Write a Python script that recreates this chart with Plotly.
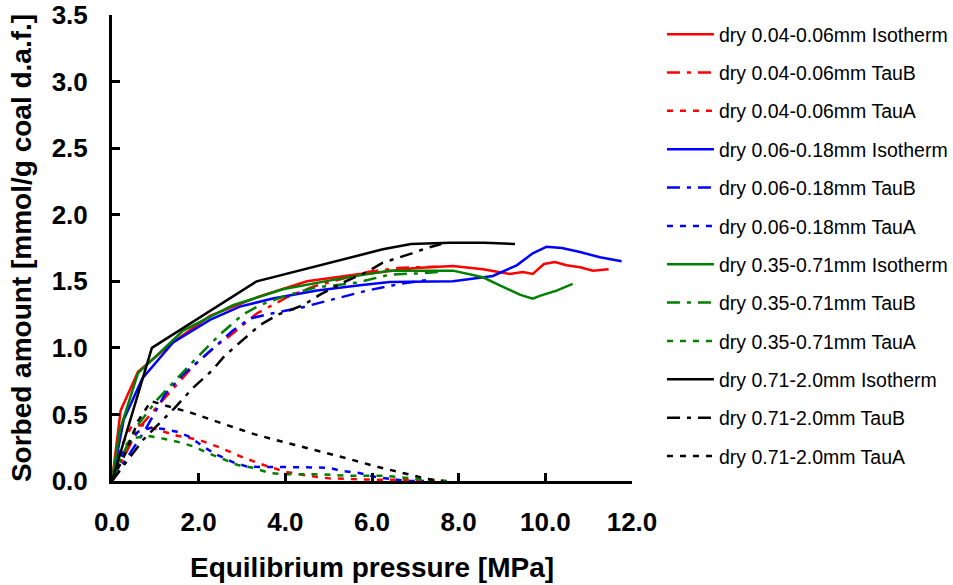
import plotly.graph_objects as go

# ---- data: pressure [MPa] and sorbed amount [mmol/g coal d.a.f.] ----
# dry 0.04-0.06mm
p_red_iso = [0, 0.2, 0.6, 1.0, 1.4, 2.26, 3.35, 4.5, 5.72, 6.0, 7.0, 7.87, 8.56, 9.18, 9.48, 9.71, 9.97, 10.22, 10.49, 10.8, 11.1, 11.46]
q_red_iso = [0, 0.53, 0.82, 0.93, 1.04, 1.24, 1.38, 1.50, 1.555, 1.56, 1.60, 1.615, 1.59, 1.555, 1.57, 1.555, 1.63, 1.645, 1.62, 1.605, 1.58, 1.59]
p_red_tb = [0, 0.3, 0.6, 1.15, 1.87, 2.42, 2.68, 3.35, 4.04, 4.64, 5.3, 5.9, 6.6, 7.5]
q_red_tb = [0, 0.2, 0.39, 0.6, 0.86, 1.02, 1.08, 1.26, 1.38, 1.46, 1.52, 1.57, 1.60, 1.61]
p_red_ta = [0, 0.2, 0.45, 0.7, 1.0, 1.5, 2.0, 2.5, 3.0, 3.5, 4.0, 4.5, 5.0, 6.0, 7.0, 7.7]
q_red_ta = [0, 0.25, 0.41, 0.42, 0.39, 0.34, 0.31, 0.25, 0.18, 0.12, 0.07, 0.04, 0.02, 0.01, 0.01, 0.0]

# dry 0.06-0.18mm
p_blue_iso = [0, 0.27, 0.7, 1.41, 2.26, 2.95, 3.71, 4.73, 5.72, 6.41, 7.87, 8.79, 9.34, 9.71, 10.03, 10.38, 10.8, 11.26, 11.76]
q_blue_iso = [0, 0.46, 0.77, 1.04, 1.21, 1.31, 1.37, 1.43, 1.47, 1.495, 1.50, 1.54, 1.62, 1.71, 1.76, 1.75, 1.72, 1.68, 1.65]
p_blue_tb = [0, 0.3, 0.76, 1.22, 1.64, 2.07, 2.79, 3.18, 3.71, 4.34, 5.03, 5.88, 6.64, 7.3]
q_blue_tb = [0, 0.15, 0.38, 0.65, 0.8, 0.92, 1.13, 1.22, 1.26, 1.30, 1.36, 1.43, 1.48, 1.51]
p_blue_ta = [0, 0.3, 0.6, 0.9, 1.2, 1.5, 1.8, 2.1, 2.4, 2.8, 3.1, 3.5, 4.0, 5.0, 5.3, 5.7, 6.1, 6.5, 6.8, 7.2]
q_blue_ta = [0, 0.25, 0.37, 0.40, 0.39, 0.37, 0.33, 0.26, 0.20, 0.14, 0.11, 0.105, 0.105, 0.10, 0.075, 0.06, 0.03, 0.01, 0.0, 0.0]

# dry 0.35-0.71mm
p_green_iso = [0, 0.18, 0.6, 1.64, 2.79, 3.94, 5.26, 6.41, 7.87, 8.56, 8.95, 9.41, 9.71, 9.87, 10.26, 10.63]
q_green_iso = [0, 0.38, 0.81, 1.13, 1.32, 1.44, 1.52, 1.58, 1.58, 1.53, 1.47, 1.40, 1.37, 1.39, 1.43, 1.48]
p_green_tb = [0, 0.25, 0.55, 1.04, 1.85, 2.49, 3.02, 3.41, 4.0, 4.64, 5.65, 6.41, 7.1, 7.57]
q_green_tb = [0, 0.2, 0.4, 0.61, 0.89, 1.10, 1.25, 1.32, 1.39, 1.45, 1.49, 1.55, 1.56, 1.57]
p_green_ta = [0, 0.2, 0.45, 0.8, 1.15, 1.57, 1.87, 2.21, 2.56, 2.9, 3.25, 3.64, 4.04, 4.75, 5.49, 6.25, 6.6, 7.0, 7.38, 7.73]
q_green_ta = [0, 0.22, 0.32, 0.34, 0.32, 0.29, 0.26, 0.21, 0.165, 0.12, 0.10, 0.06, 0.05, 0.05, 0.04, 0.04, 0.03, 0.015, 0.005, 0.0]

# dry 0.71-2.0mm
p_black_iso = [0, 0.92, 3.34, 6.25, 6.9, 7.8, 8.6, 9.3]
q_black_iso = [0, 1.0, 1.50, 1.74, 1.78, 1.79, 1.79, 1.78]
p_black_tb = [0, 0.42, 0.72, 1.45, 1.87, 2.31, 2.6, 3.02, 3.41, 3.83, 4.41, 4.8, 5.33, 5.88, 6.25, 6.92, 7.27, 7.6]
q_black_tb = [0, 0.18, 0.31, 0.55, 0.70, 0.83, 0.94, 1.06, 1.17, 1.25, 1.32, 1.40, 1.49, 1.57, 1.64, 1.71, 1.75, 1.78]
p_black_ta = [0, 0.3, 0.6, 0.9, 1.2, 1.85, 2.56, 3.3, 3.99, 4.73, 5.42, 6.14, 6.87, 7.29, 7.64]
q_black_ta = [0, 0.2, 0.45, 0.6, 0.57, 0.51, 0.43, 0.35, 0.29, 0.23, 0.17, 0.105, 0.045, 0.015, 0.0]

fractions = ["dry 0.04-0.06mm", "dry 0.06-0.18mm", "dry 0.35-0.71mm", "dry 0.71-2.0mm"]
colors = ["#FF0000", "#0000FF", "#008000", "#000000"]
series = [
    [(p_red_iso, q_red_iso), (p_red_tb, q_red_tb), (p_red_ta, q_red_ta)],
    [(p_blue_iso, q_blue_iso), (p_blue_tb, q_blue_tb), (p_blue_ta, q_blue_ta)],
    [(p_green_iso, q_green_iso), (p_green_tb, q_green_tb), (p_green_ta, q_green_ta)],
    [(p_black_iso, q_black_iso), (p_black_tb, q_black_tb), (p_black_ta, q_black_ta)],
]
kinds = ["Isotherm", "TauB", "TauA"]
dashes = ["solid", "13px,7px,4px,7px", "6px,7px"]

FONT = "Arial, Liberation Sans, sans-serif"

fig = go.Figure()
k = 0
for name, col, group in zip(fractions, colors, series):
    for kind, dash, (px, qy) in zip(kinds, dashes, group):
        fig.add_trace(go.Scatter(
            x=px, y=qy, mode="lines",
            name=f"{name} {kind}",
            legendgroup=f"g{k}",
            line=dict(color=col, width=2.5, dash=dash),
        ))
        k += 1

axis_common = dict(
    showline=True, linecolor="black", linewidth=3,
    ticks="inside", ticklen=8, tickwidth=3, tickcolor="black",
    showgrid=False, zeroline=False, mirror=False, automargin=False,
    tickformat=".1f",
    tickfont=dict(family=FONT, size=26, color="black", weight="bold"),
    title_font=dict(family=FONT, size=28, color="black", weight="bold"),
)

fig.update_layout(
    width=953, height=585,
    margin=dict(l=112, r=321, t=15, b=104, autoexpand=False),
    paper_bgcolor="white", plot_bgcolor="white",
    xaxis=dict(range=[0, 12], dtick=2, tick0=0,
               title=dict(text="Equilibrium pressure [MPa]", standoff=22),
               ticklabelstandoff=16, **axis_common),
    yaxis=dict(range=[0, 3.5], dtick=0.5, tick0=0,
               title=dict(text="Sorbed amount [mmol/g coal d.a.f.]", standoff=12),
               ticklabelstandoff=16, **axis_common),
    legend=dict(
        x=0.6946, xanchor="left", xref="container",
        y=0.9744, yanchor="top", yref="container",
        font=dict(family=FONT, size=19.5, color="black"),
        itemwidth=47, tracegroupgap=10.0, maxheight=575,
        bgcolor="rgba(0,0,0,0)",
    ),
    showlegend=True,
)

fig.write_html("out.html")
